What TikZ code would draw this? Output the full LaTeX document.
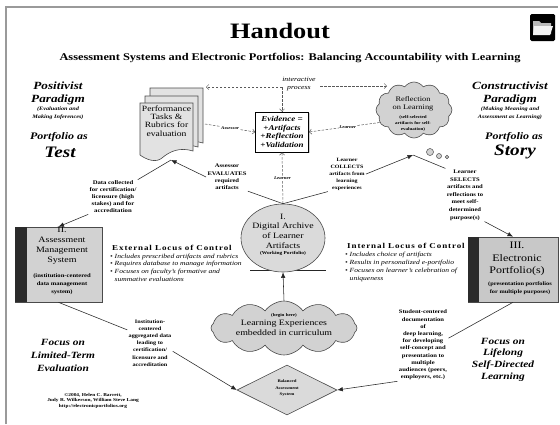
\documentclass[tikz,border=0pt]{standalone}
\usepackage{fontspec}
\setmainfont[FakeStretch=1.2]{Liberation Serif}
\usetikzlibrary{shapes.geometric,shapes.symbols,arrows.meta,shadows}
\definecolor{docfill}{HTML}{E2E2E2}
\definecolor{cloudfill}{HTML}{D2D2D2}
\definecolor{shapefill}{HTML}{DADADA}
\definecolor{boxfill}{HTML}{D2D2D2}
\definecolor{boxfilltwo}{HTML}{C8C8C8}
\definecolor{barfill}{HTML}{2B2B2B}
\definecolor{edge}{HTML}{4A4A4A}
\definecolor{framec}{HTML}{9A9A9A}
\newcommand{\fz}[2]{\fontsize{#1}{#2}\selectfont}
\begin{document}
\begin{tikzpicture}[x=1pt,y=-1pt,
  txt/.style={inner sep=0pt, align=center},
  lblst/.style={inner sep=1.2pt, align=center},
  conn/.style={draw=black!85, line width=0.55pt},
  arr/.style={conn, -{Latex[length=5.5pt,width=4.5pt]}},
  darr/.style={draw=black!65, line width=0.5pt, dash pattern=on 2.5pt off 1.5pt, -{Straight Barb[length=2.5pt,width=5pt]}},
  dlbl/.style={fill=white, inner sep=0.8pt, font=\fz{4.2}{5}\bfseries\itshape},
  docst/.style={draw=edge, fill=docfill, line width=0.6pt},
  cloudst/.style={cloud, cloud puffs=12, cloud puff arc=110, cloud ignores aspect, draw=edge, fill=cloudfill, line width=0.6pt, inner sep=0pt},
  bubst/.style={circle, draw=edge, fill=cloudfill, line width=0.5pt, inner sep=0pt},
  boxst/.style={draw=edge, line width=0.6pt, inner sep=0pt}
]
\useasboundingbox (0,0) rectangle (560,424);
\fill[white] (0,0) rectangle (560,424);
% frame
\draw[framec, line width=1.2pt] (6,424) -- (6,7) -- (558,7);
% title
\node[txt] (title) at (280,31) {\fz{22}{22}\bfseries Handout};
\node[txt] (sub) at (290,58) {\fz{10.3}{11}\bfseries Assessment Systems and Electronic Portfolios: Balancing Accountability with Learning};
% folder icon
\node[fill=black, rounded corners=1.5pt, minimum width=25pt, minimum height=27pt, inner sep=0pt] (folder) at (542.5,27.5) {};
\fill[gray!55] (533,21) -- (539,21) -- (541,23) -- (551,23) -- (551,34) -- (533,34) -- cycle;
\fill[white!90!gray] (534,26) -- (553,26) -- (550,35) -- (533,35) -- cycle;
% paradigms
\node[txt, font=\fz{11}{13}\bfseries\itshape] (posp) at (58,93.5) {Positivist\\Paradigm};
\node[txt, font=\fz{5.2}{8}\bfseries\itshape] (posq) at (58,113) {(Evaluation and\\Making Inferences)};
\node[txt, font=\fz{10}{10}\bfseries\itshape] (ptest) at (59,137) {Portfolio as};
\node[txt, font=\fz{16}{16}\bfseries\itshape] (ptestb) at (60,152) {Test};
\node[txt, font=\fz{11}{13}\bfseries\itshape] (consp) at (510,93.5) {Constructivist\\Paradigm};
\node[txt, font=\fz{5.2}{8}\bfseries\itshape] (consq) at (510,113) {(Making Meaning and\\Assessment as Learning)};
\node[txt, font=\fz{10}{10}\bfseries\itshape] (pstory) at (514,137) {Portfolio as};
\node[txt, font=\fz{16}{16}\bfseries\itshape] (pstoryb) at (515,152) {Story};
% document stack
\path[docst] (150,88) -- (203,88) -- (203,143) .. controls (190,139) and (180,143) .. (172,150) .. controls (166,155) and (157,152) .. (150,147) -- cycle;
\path[docst] (145,96) -- (198,96) -- (198,147) .. controls (185,143) and (175,147) .. (167,154) .. controls (161,159) and (152,156) .. (145,151) -- cycle;
\path[docst] (140,103) -- (193,103) -- (193,151) .. controls (180,147) and (170,151) .. (162,158) .. controls (156,163) and (147,160) .. (140,155) -- cycle;
\node[txt, font=\fz{8}{8.3}] (perf) at (166.5,121) {Performance\\Tasks \&\\Rubrics for\\evaluation};
\coordinate (perfb) at (171,160);
\coordinate (perftr) at (206,87);
\coordinate (perfr) at (205,124);
% evidence
\node[draw=black, fill=white, line width=0.6pt, drop shadow={shadow xshift=1.2pt, shadow yshift=-1.2pt, fill=gray!70}, minimum width=53pt, minimum height=40pt, inner sep=1pt, align=center, font=\fz{7.5}{8.8}\bfseries\itshape] (evid) at (282,132) {Evidence =\\+Artifacts\\+Reflection\\+Validation};
% interactive process
\node[txt, font=\fz{6.5}{8}\itshape] (inter) at (299,84) {interactive\\process};
\coordinate (ipj) at (282,87);
\coordinate (ipr) at (320,86);
\coordinate (refltl) at (387,86);
\draw[darr] (ipj) -- (perftr);
\draw[darr] (ipj) -- (evid.north);
\draw[darr] (ipr) -- (refltl);
% reflection cloud
\node[cloudst, minimum width=76pt, minimum height=56pt] (refl) at (414,110) {};
\node[txt, font=\fz{7}{8.5}] (reflt) at (413,104) {Reflection\\on Learning};
\node[txt, font=\fz{4.2}{6}\bfseries] (refls) at (413,123) {(self-selected\\artifacts for self-\\evaluation)};
\node[bubst, minimum size=7pt] (bub1) at (430,152) {};
\node[bubst, minimum size=5pt] (bub2) at (439,156) {};
\node[bubst, minimum size=3.5pt] (bub3) at (447,157) {};
\coordinate (reflb) at (413,155);
\draw[darr] (perfr) -- (evid.west) node[dlbl, midway] {Assessor};
\draw[darr] (refl.200) -- (evid.east) node[dlbl, pos=0.45] {Learner};
% archive
\draw[conn] (250,270) -- (326,270);
\node[ellipse, draw=edge, fill=shapefill, line width=0.6pt, minimum width=84pt, minimum height=68pt, inner sep=0pt] (arch) at (283,238) {};
\node[txt, font=\fz{8.2}{9.6}] (archt) at (283,231) {I.\\Digital Archive\\of Learner\\Artifacts};
\node[txt, font=\fz{4.5}{5}\bfseries] (archs) at (283,253.5) {(Working Portfolio)};
\draw[darr] (arch.north) -- (evid.south) node[dlbl, midway] {Learner};
% learning experiences
\node[cloudst, minimum width=146pt, minimum height=54pt] (lexp) at (284,328) {};
\node[txt, font=\fz{4.2}{5}\bfseries] (lexps) at (284,315) {(begin here)};
\node[txt, font=\fz{8.2}{10}] (lexpt) at (284,328) {Learning Experiences\\embedded in curriculum};
\draw[arr] (lexp.north) -- (arch.south);
% balanced
\node[diamond, draw=edge, fill=shapefill, line width=0.6pt, minimum width=100pt, minimum height=50pt, inner sep=0pt] (bal) at (287,390) {};
\node[txt, font=\fz{4}{6.5}\bfseries] (balt) at (287,388.5) {Balanced\\Assessment\\System};
% box II
\node[boxst, fill=boxfill, minimum width=87pt, minimum height=75pt] (ams) at (58.5,264.5) {};
\fill[barfill] (15.3,227.3) rectangle (27,301.7);
\node[txt, font=\fz{8.3}{10}] (amst) at (62,245.5) {II.\\Assessment\\Management\\System};
\node[txt, font=\fz{5.5}{8}\bfseries] (amss) at (62,284) {(institution-centered\\data management\\system)};
% box III
\node[boxst, fill=boxfilltwo, minimum width=90pt, minimum height=65pt] (eport) at (513,269.5) {};
\fill[barfill] (468.3,237.3) rectangle (479,301.7);
\node[txt, font=\fz{10}{12.5}] (eportt) at (517,259) {III.\\Electronic\\Portfolio(s)};
\node[txt, font=\fz{5.3}{8}\bfseries] (eports) at (520,288) {(presentation portfolios\\for multiple purposes)};
% connector labels
\node[lblst, font=\fz{5.5}{7.3}\bfseries] (aseval) at (227,177) {Assessor\\EVALUATES\\required\\artifacts};
\node[lblst, font=\fz{5}{7}\bfseries] (lcoll) at (347,174) {Learner\\COLLECTS\\artifacts from\\learning\\experiences};
\node[lblst, font=\fz{5.5}{7.6}\bfseries] (lsel) at (465,195) {Learner\\SELECTS\\artifacts and\\reflections to\\meet self-\\determined\\purpose(s)};
\node[lblst, font=\fz{5.6}{7}\bfseries] (datac) at (113,197) {Data collected\\for certification/\\licensure (high\\stakes) and for\\accreditation};
\node[lblst, font=\fz{5.2}{7.2}\bfseries] (instc) at (150,343) {Institution-\\centered\\aggregated data\\leading to\\certification/\\licensure and\\accreditation};
\node[lblst, font=\fz{5.5}{7.2}\bfseries] (studc) at (423,345) {Student-centered\\documentation\\of\\deep learning,\\for developing\\self-concept and\\presentation to\\multiple\\audiences (peers,\\employers, etc.)};
% connectors
\draw[conn] (arch.north) -- (aseval.south east);
\draw[arr] (aseval.west) -- (perfb);
\draw[conn] (arch.north) -- (lcoll.south west);
\draw[arr] (lcoll.east) -- (reflb);
\draw[conn] (reflb) -- (lsel.north west);
\draw[arr] (lsel.south east) -- (eport.north);
\draw[conn] (perfb) -- (datac.north east);
\draw[arr] (datac.south west) -- (ams.north);
\draw[conn] (ams.south) -- (instc.150);
\draw[arr] (instc.-20) -- (bal.west);
\draw[conn] (eport.south) -- (studc.15);
\draw[arr] (studc.south west) -- (bal.east);
% locus of control
\node[anchor=west, inner sep=0pt, font=\fz{7.5}{8}\bfseries\addfontfeature{LetterSpace=12}] (extl) at (112,248) {External Locus of Control};
\node[anchor=north west, inner sep=0pt, align=left, font=\fz{6.3}{7.8}\itshape] (extb) at (110,253.5) {• Includes prescribed artifacts and rubrics\\• Requires database to manage information\\• Focuses on faculty's formative and\\\phantom{• }summative evaluations};
\node[anchor=west, inner sep=0pt, font=\fz{7.5}{8}\bfseries\addfontfeature{LetterSpace=12}] (intl) at (347,246) {Internal Locus of Control};
\node[anchor=north west, inner sep=0pt, align=left, font=\fz{6.3}{7.8}\itshape] (intb) at (345,252) {• Includes choice of artifacts\\• Results in personalized e-portfolio\\• Focuses on learner's celebration of\\\phantom{• }uniqueness};
% focus
\node[txt, font=\fz{9.5}{13}\bfseries\itshape] (focl) at (63,355) {Focus on\\Limited-Term\\Evaluation};
\node[txt, font=\fz{9.5}{11.7}\bfseries\itshape] (focr) at (503,359.5) {Focus on\\Lifelong\\Self-Directed\\Learning};
% copyright
\node[txt, font=\fz{4.5}{5.5}\bfseries] (copy) at (93,400.5) {©2004, Helen C. Barrett,\\Judy R. Wilkerson, William Steve Lang\\http://electronicportfolios.org};
\end{tikzpicture}
\end{document}
